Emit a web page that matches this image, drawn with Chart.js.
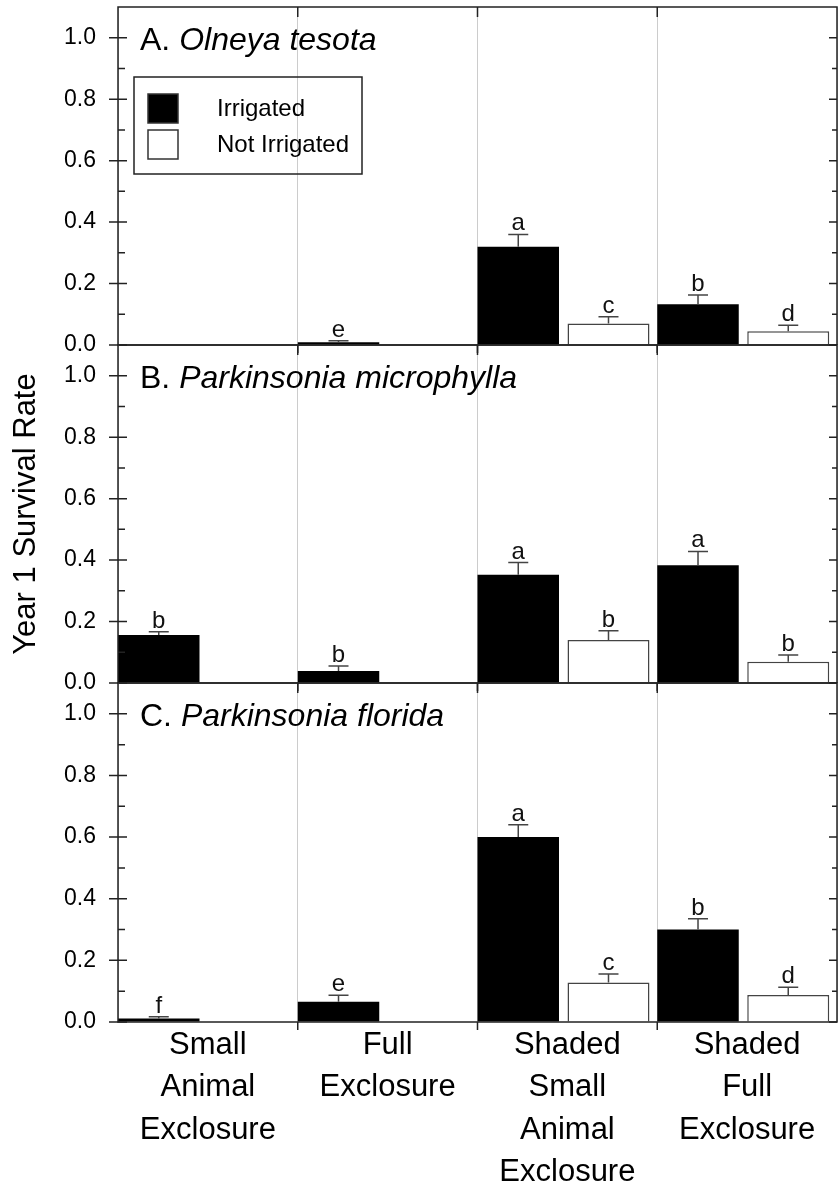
<!DOCTYPE html>
<html>
<head>
<meta charset="utf-8">
<script src="https://cdn.jsdelivr.net/npm/chart.js@4.4.1/dist/chart.umd.min.js"></script>
<style>
  body { margin: 0; background: #fff; }
  #wrap { position: relative; width: 838px; height: 1190px; overflow: hidden; }
  canvas { position: absolute; left: 0; }
</style>
</head>
<body>
<div id="wrap">
  <canvas id="panelA" width="838" height="370" style="top:-7px"></canvas>
  <canvas id="panelB" width="838" height="370" style="top:331px"></canvas>
  <canvas id="panelC" width="838" height="521" style="top:669px"></canvas>
</div>
<script>
// treatments along the x axis, one label line per entry
const treatments = [
  ["Small", "Animal", "Exclosure"],
  ["Full", "Exclosure"],
  ["Shaded", "Small", "Animal", "Exclosure"],
  ["Shaded", "Full", "Exclosure"]
];
const seriesNames = ["Irrigated", "Not Irrigated"];
const yTicks = [0, 0.2, 0.4, 0.6, 0.8, 1.0];

// A. Olneya tesota
const olneyaIrr = [null, 0.009, 0.32, 0.133];
const olneyaIrrSE = [null, 0.005, 0.04, 0.03];
const olneyaIrrSig = [null, "e", "a", "b"];
const olneyaDry = [null, null, 0.07, 0.045];
const olneyaDrySE = [null, null, 0.022, 0.019];
const olneyaDrySig = [null, null, "c", "d"];

// B. Parkinsonia microphylla
const microIrr = [0.156, 0.039, 0.352, 0.383];
const microIrrSE = [0.011, 0.016, 0.04, 0.045];
const microIrrSig = ["b", "b", "a", "a"];
const microDry = [null, null, 0.14, 0.069];
const microDrySE = [null, null, 0.03, 0.022];
const microDrySig = [null, null, "b", "b"];

// C. Parkinsonia florida
const floridaIrr = [0.011, 0.066, 0.60, 0.30];
const floridaIrrSE = [0.006, 0.021, 0.04, 0.035];
const floridaIrrSig = ["f", "e", "a", "b"];
const floridaDry = [null, null, 0.128, 0.088];
const floridaDrySE = [null, null, 0.028, 0.025];
const floridaDrySig = [null, null, "c", "d"];

const FONT = "'Liberation Sans', Arial, sans-serif";
const INK = '#222';

// error bars, letters, frame with ticks, panel title and legend
const panelDecor = {
  id: 'panelDecor',
  afterDatasetsDraw(chart) {
    const ctx = chart.ctx;
    const y = chart.scales.y;
    ctx.save();
    chart.data.datasets.forEach((ds, di) => {
      const meta = chart.getDatasetMeta(di);
      ds.data.forEach((v, i) => {
        if (v === null) return;
        const bar = meta.data[i];
        const yCap = y.getPixelForValue(v + ds.se[i]);
        ctx.strokeStyle = '#444';
        ctx.lineWidth = 1.5;
        ctx.beginPath();
        ctx.moveTo(bar.x, bar.y);
        ctx.lineTo(bar.x, yCap);
        ctx.moveTo(bar.x - 10, yCap);
        ctx.lineTo(bar.x + 10, yCap);
        ctx.stroke();
        ctx.fillStyle = '#111';
        ctx.font = '24px ' + FONT;
        ctx.textAlign = 'center';
        ctx.textBaseline = 'alphabetic';
        ctx.fillText(ds.letters[i], bar.x, yCap - 4);
      });
    });
    ctx.restore();
  },
  afterDraw(chart, args, opts) {
    const ctx = chart.ctx;
    const { left, right, top, bottom } = chart.chartArea;
    const x = chart.scales.x, y = chart.scales.y;
    ctx.save();
    ctx.strokeStyle = INK;
    ctx.lineWidth = 1.5;
    ctx.strokeRect(left, top, right - left, bottom - top);

    ctx.beginPath();
    yTicks.forEach((v, k) => {
      const py = y.getPixelForValue(v);
      ctx.moveTo(left - 9, py); ctx.lineTo(left + 9, py);
      ctx.moveTo(right - 8, py); ctx.lineTo(right, py);
      if (k < yTicks.length - 1) {
        const pm = y.getPixelForValue((v + yTicks[k + 1]) / 2);
        ctx.moveTo(left, pm); ctx.lineTo(left + 7, pm);
        ctx.moveTo(right - 5, pm); ctx.lineTo(right, pm);
      }
    });
    for (let i = 1; i < treatments.length; i++) {
      const px = x.getPixelForValue(i - 0.5);
      ctx.moveTo(px, top); ctx.lineTo(px, top + 10);
      ctx.moveTo(px, bottom); ctx.lineTo(px, bottom + 8);
    }
    ctx.stroke();

    // panel heading
    ctx.fillStyle = '#000';
    ctx.textAlign = 'left';
    ctx.textBaseline = 'alphabetic';
    ctx.font = '32px ' + FONT;
    const head = opts.letter + '. ';
    ctx.fillText(head, left + 22, top + 43);
    const w = ctx.measureText(head).width;
    ctx.font = 'italic 32px ' + FONT;
    ctx.fillText(opts.species, left + 22 + w, top + 43);

    if (opts.legend) {
      const lx = left + 16, ly = top + 70;
      ctx.lineWidth = 1.5;
      ctx.strokeStyle = INK;
      ctx.strokeRect(lx, ly, 228, 97);
      chart.data.datasets.forEach((ds, di) => {
        const sy = ly + 17 + di * 36;
        ctx.fillStyle = ds.backgroundColor;
        ctx.fillRect(lx + 14, sy, 30, 29);
        ctx.strokeStyle = '#333';
        ctx.strokeRect(lx + 14, sy, 30, 29);
        ctx.fillStyle = '#000';
        ctx.font = '24px ' + FONT;
        ctx.textBaseline = 'middle';
        ctx.fillText(ds.label, lx + 83, sy + 15.5);
      });
    }
    ctx.restore();
  }
};

let makePanel = (id, p) => {
  const datasets = [
    {
      label: seriesNames[0], data: p.irr, se: p.irrSE, letters: p.irrSig,
      backgroundColor: '#000', borderWidth: 0,
      categoryPercentage: 1.093, barPercentage: 0.8295
    },
    {
      label: seriesNames[1], data: p.dry, se: p.drySE, letters: p.drySig,
      backgroundColor: '#fff', borderColor: '#444', borderWidth: 1.5,
      categoryPercentage: 0.915, barPercentage: 0.997
    }
  ];
  return new Chart(document.getElementById(id), {
    type: 'bar',
    data: { labels: treatments, datasets: datasets },
    options: {
      responsive: false,
      animation: false,
      events: [],
      layout: { padding: { top: 14, right: 1, left: 0, bottom: 0 } },
      plugins: {
        legend: { display: false },
        tooltip: { enabled: false },
        panelDecor: { letter: p.letter, species: p.species, legend: p.legend }
      },
      scales: {
        x: {
          grid: { color: '#cccccc', lineWidth: 1, drawTicks: false },
          border: { display: false },
          ticks: {
            display: p.showLabels, color: '#000', padding: 2,
            maxRotation: 0, minRotation: 0, autoSkip: false,
            font: { family: FONT, size: 31, lineHeight: 1.371 }
          },
          afterFit: (s) => { s.height = p.xHeight; }
        },
        y: {
          min: 0, max: 1.1,
          // invisible tick marks only push the labels away from the axis
          grid: { display: true, drawOnChartArea: false, drawTicks: true, tickLength: 22, color: 'rgba(0,0,0,0)' },
          border: { display: false },
          afterBuildTicks: (s) => { s.ticks = yTicks.map(v => ({ value: v })); },
          ticks: {
            color: '#000', padding: 0,
            font: { family: FONT, size: 23 },
            callback: (v) => v.toFixed(1)
          },
          title: {
            display: p.yTitle, text: 'Year 1 Survival Rate', color: '#000',
            font: { family: FONT, size: 31, lineHeight: 1.2 },
            padding: { top: 8, bottom: 0 }
          },
          afterFit: (s) => { s.width = 118; }
        }
      }
    },
    plugins: [panelDecor]
  });
};

makePanel('panelA', {
  letter: 'A', species: 'Olneya tesota', legend: true, yTitle: false,
  showLabels: false, xHeight: 18,
  irr: olneyaIrr, irrSE: olneyaIrrSE, irrSig: olneyaIrrSig,
  dry: olneyaDry, drySE: olneyaDrySE, drySig: olneyaDrySig
});
makePanel('panelB', {
  letter: 'B', species: 'Parkinsonia microphylla', legend: false, yTitle: true,
  showLabels: false, xHeight: 18,
  irr: microIrr, irrSE: microIrrSE, irrSig: microIrrSig,
  dry: microDry, drySE: microDrySE, drySig: microDrySig
});
makePanel('panelC', {
  letter: 'C', species: 'Parkinsonia florida', legend: false, yTitle: false,
  showLabels: true, xHeight: 168,
  irr: floridaIrr, irrSE: floridaIrrSE, irrSig: floridaIrrSig,
  dry: floridaDry, drySE: floridaDrySE, drySig: floridaDrySig
});
</script>
</body>
</html>
